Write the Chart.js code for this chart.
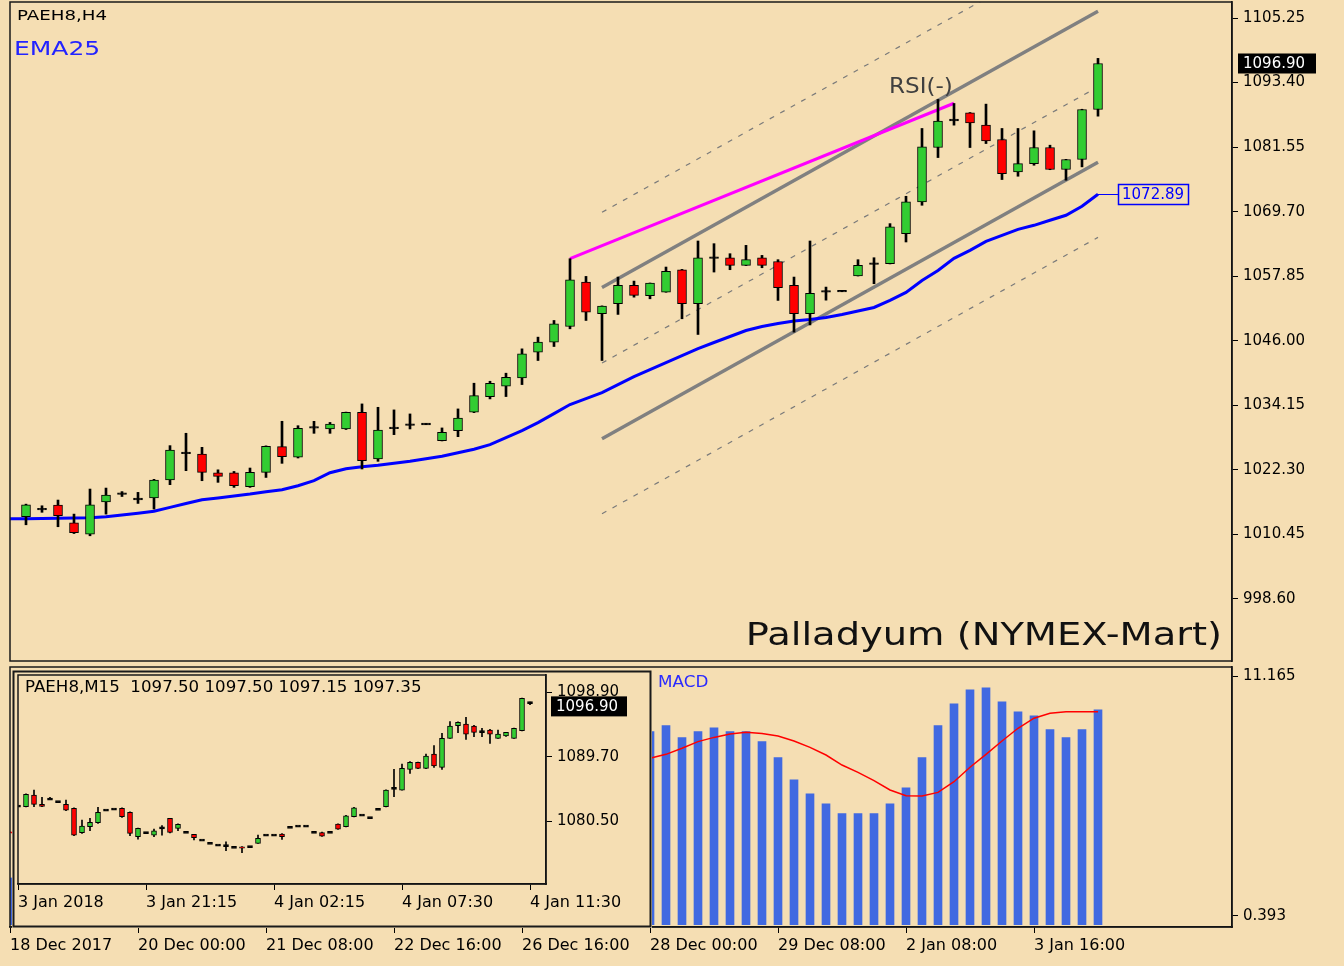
<!DOCTYPE html>
<html>
<head>
<meta charset="utf-8">
<script src="https://cdn.jsdelivr.net/npm/chart.js@4.4.0/dist/chart.umd.min.js"></script>
<style>
  html, body { margin: 0; padding: 0; background: #F5DEB3; }
  #wrap { position: relative; width: 1344px; height: 966px; background: #F5DEB3; overflow: hidden; }
  canvas { position: absolute; }
  #main { left: 0; top: 0; }
  #macd { left: 0; top: 664px; }
  #inset { left: 12px; top: 670px; z-index: 2; }
</style>
</head>
<body>
<div id="wrap">
  <canvas id="main" width="1344" height="664"></canvas>
  <canvas id="macd" width="1344" height="302"></canvas>
  <canvas id="inset" width="640" height="258"></canvas>
</div>
<script>
// PAEH8 H4 candles, index 0 = first bar after 18 Dec 2017
const h4Open = [1013.68, 1015.10, 1015.83, 1012.58, 1010.49, 1016.42, 1018.00, 1016.95, 1017.12, 1020.43,
  1025.40, 1025.21, 1021.77, 1021.77, 1019.20, 1021.84, 1026.56, 1024.60, 1030.12, 1029.80,
  1029.80, 1032.87, 1024.30, 1030.00, 1030.60, 1030.72, 1027.65, 1029.50, 1032.87, 1035.75,
  1037.65, 1039.18, 1043.90, 1045.74, 1048.62, 1056.77, 1050.95, 1052.79, 1056.16, 1054.26,
  1054.93, 1059.04, 1052.79, 1061.30, 1061.24, 1059.83, 1061.24, 1060.55, 1056.16, 1050.95,
  1055.10, 1055.10, 1057.88, 1060.20, 1060.14, 1065.66, 1071.48, 1081.47, 1086.55, 1087.85,
  1085.58, 1082.94, 1077.00, 1078.53, 1081.47, 1077.43, 1079.27, 1088.46];
const h4High = [1016.00, 1015.70, 1016.75, 1014.17, 1018.77, 1018.95, 1018.30, 1018.16, 1020.55, 1026.74,
  1029.01, 1026.43, 1022.30, 1022.00, 1022.63, 1026.70, 1031.21, 1030.40, 1031.20, 1031.00,
  1032.90, 1034.40, 1033.78, 1033.30, 1032.56, 1030.80, 1029.99, 1033.48, 1038.20, 1038.56,
  1040.04, 1044.51, 1046.66, 1049.72, 1061.06, 1057.81, 1052.40, 1057.69, 1056.95, 1056.60,
  1059.53, 1059.10, 1064.31, 1063.82, 1061.98, 1063.51, 1061.67, 1060.88, 1057.69, 1064.31,
  1055.85, 1055.15, 1060.88, 1061.24, 1067.50, 1072.52, 1084.97, 1090.30, 1089.56, 1087.90,
  1089.44, 1084.97, 1084.97, 1084.54, 1081.90, 1079.30, 1088.50, 1097.84];
const h4Low = [1012.21, 1014.50, 1011.85, 1010.60, 1010.19, 1014.17, 1017.40, 1016.13, 1015.09, 1019.57,
  1022.14, 1020.30, 1020.00, 1019.08, 1019.08, 1020.90, 1023.49, 1024.47, 1029.00, 1029.00,
  1029.70, 1022.45, 1023.86, 1028.76, 1029.80, 1030.60, 1027.60, 1028.39, 1032.80, 1035.32,
  1035.75, 1037.95, 1042.37, 1044.94, 1048.19, 1049.72, 1042.37, 1050.83, 1054.00, 1053.70,
  1054.90, 1050.03, 1047.15, 1058.61, 1059.04, 1059.80, 1059.40, 1053.40, 1047.58, 1048.90,
  1053.45, 1055.00, 1057.88, 1056.47, 1060.10, 1064.13, 1070.87, 1079.63, 1085.58, 1081.47,
  1082.20, 1075.59, 1076.20, 1078.22, 1077.40, 1075.47, 1077.92, 1087.23];
const h4Close = [1015.89, 1015.09, 1013.87, 1010.74, 1015.89, 1017.64, 1017.85, 1016.93, 1020.43, 1025.94,
  1025.39, 1021.84, 1021.10, 1019.38, 1021.84, 1026.62, 1024.72, 1029.93, 1030.10, 1030.72,
  1032.87, 1023.98, 1029.60, 1029.99, 1030.58, 1030.70, 1029.19, 1031.82, 1035.93, 1038.20,
  1039.30, 1043.59, 1045.74, 1049.11, 1057.20, 1051.25, 1052.36, 1056.16, 1054.32, 1056.59,
  1058.73, 1052.79, 1061.24, 1061.24, 1059.83, 1060.88, 1059.83, 1055.73, 1050.95, 1054.70,
  1055.00, 1055.08, 1059.84, 1060.10, 1066.89, 1071.48, 1081.60, 1086.31, 1086.50, 1086.00,
  1082.70, 1076.69, 1078.53, 1081.47, 1077.43, 1079.27, 1088.46, 1096.90];

// EMA25, starts one bar before the first candle (index -1)
const emaStart = -1;
const ema25 = [1013.31, 1013.31, 1013.37, 1013.42, 1013.46, 1013.51, 1013.68, 1014.01, 1014.34, 1014.69,
  1015.41, 1016.13, 1016.79, 1017.14, 1017.49, 1017.85, 1018.28, 1018.65, 1019.38, 1020.30,
  1021.77, 1022.51, 1022.87, 1023.15, 1023.52, 1023.89, 1024.35, 1024.80, 1025.45, 1026.09,
  1026.92, 1028.21, 1029.49, 1030.97, 1032.62, 1034.28, 1035.38, 1036.48, 1037.95, 1039.42,
  1040.71, 1042.00, 1043.28, 1044.57, 1045.67, 1046.78, 1047.88, 1048.62, 1049.17, 1049.63,
  1049.90, 1050.27, 1050.82, 1051.47, 1052.11, 1053.40, 1054.87, 1057.07, 1058.91, 1061.12,
  1062.59, 1064.25, 1065.35, 1066.45, 1067.19, 1068.11, 1069.03, 1070.68, 1072.89];

// regression channel (bar 36 -> bar 67) and RSI divergence line
const channelBars = [36, 67];
const channelUpper = [1055.79, 1106.50];
const channelMid = [1041.90, 1092.60];
const channelLower = [1028.02, 1078.77];
const channelOuterUp = [1069.58, 1120.29];
const channelOuterLow = [1014.23, 1064.98];
const rsiBars = [34, 58];
const rsiLine = [1061.06, 1089.60];

const priceTicks = [998.60, 1010.45, 1022.30, 1034.15, 1046.00, 1057.85, 1069.70, 1081.55, 1093.40, 1105.25];
const lastPrice = 1096.90;

// MACD (index -1 .. 67)
const macdStart = -1;
const macdHist = [2.1, 2.0, 1.9, 1.9, 1.6, 1.8, 2.0, 2.1, 2.1, 2.3,
  2.9, 3.3, 3.3, 3.1, 2.9, 2.9, 3.2, 3.3, 3.7, 4.1,
  4.4, 4.7, 4.2, 4.1, 4.0, 3.9, 3.8, 3.5, 3.5, 3.9,
  4.3, 4.7, 5.3, 5.8, 6.3, 7.4, 7.7, 7.7, 8.0, 8.0,
  8.67, 8.94, 8.40, 8.67, 8.84, 8.67, 8.67, 8.22, 7.50, 6.51,
  5.88, 5.43, 4.99, 4.99, 4.99, 5.43, 6.15, 7.50, 8.94, 9.92,
  10.55, 10.64, 10.01, 9.56, 9.38, 8.76, 8.40, 8.76, 9.65];
const macdSignal = [4.16, 3.9, 3.7, 3.5, 3.3, 3.0, 2.8, 2.7, 2.6, 2.5,
  2.5, 2.6, 2.7, 2.8, 2.85, 2.9, 2.95, 3.0, 3.1, 3.3,
  3.5, 3.7, 3.85, 3.95, 4.0, 4.0, 4.0, 3.95, 3.9, 3.9,
  4.0, 4.2, 4.5, 4.8, 5.2, 5.7, 6.2, 6.6, 7.0, 7.25,
  7.47, 7.65, 7.92, 8.22, 8.41, 8.56, 8.64, 8.59, 8.47, 8.25,
  7.96, 7.62, 7.17, 6.84, 6.47, 6.05, 5.79, 5.78, 5.94, 6.42,
  7.07, 7.65, 8.25, 8.82, 9.27, 9.49, 9.56, 9.56, 9.56];
const macdTicks = [0.393, 11.165];

const h4TickBars = [-1, 7, 15, 23, 31, 39, 47, 55, 63];
const h4TickLabels = ['18 Dec 2017', '20 Dec 00:00', '21 Dec 08:00', '22 Dec 16:00', '26 Dec 16:00',
  '28 Dec 00:00', '29 Dec 08:00', '2 Jan 08:00', '3 Jan 16:00'];

// M15 inset candles
const m15Open = [1082.64, 1082.55, 1084.22, 1082.90, 1083.64, 1083.26, 1082.88, 1082.31, 1078.83, 1079.69,
  1080.26, 1082.07, 1082.21, 1082.31, 1081.74, 1078.26, 1078.83, 1078.49, 1079.60, 1080.88,
  1079.45, 1078.88, 1078.59, 1077.78, 1077.30, 1077.06, 1077.00, 1076.73, 1076.80, 1076.83,
  1077.30, 1078.49, 1078.49, 1078.64, 1079.59, 1079.78, 1079.78, 1078.88, 1078.83, 1078.88,
  1080.07, 1079.69, 1081.12, 1081.36, 1080.97, 1082.17, 1082.55, 1085.07, 1084.93, 1087.89,
  1088.89, 1088.03, 1090.08, 1088.17, 1092.32, 1094.14, 1094.38, 1094.09, 1093.30, 1093.52,
  1092.32, 1092.66, 1092.32, 1093.42, 1097.50];
const m15High = [1082.64, 1084.40, 1084.93, 1083.88, 1083.90, 1083.26, 1083.50, 1082.40, 1080.64, 1080.88,
  1082.45, 1082.07, 1082.21, 1082.40, 1081.80, 1079.50, 1078.83, 1079.35, 1079.83, 1080.90,
  1080.10, 1078.88, 1078.60, 1077.78, 1077.30, 1077.06, 1077.54, 1076.73, 1076.85, 1076.83,
  1078.49, 1078.49, 1078.49, 1078.70, 1079.59, 1079.78, 1079.78, 1078.88, 1078.90, 1078.88,
  1080.10, 1081.30, 1082.45, 1081.36, 1080.97, 1082.17, 1084.95, 1087.89, 1088.65, 1089.00,
  1088.95, 1090.08, 1091.28, 1093.04, 1094.71, 1094.70, 1095.33, 1094.20, 1093.75, 1093.60,
  1093.52, 1093.20, 1093.80, 1098.10, 1097.50];
const m15Low = [1082.64, 1082.50, 1082.55, 1082.55, 1083.60, 1083.26, 1081.97, 1078.40, 1078.73, 1079.11,
  1080.16, 1082.07, 1082.21, 1081.00, 1078.40, 1077.92, 1078.83, 1078.26, 1078.49, 1078.80,
  1079.11, 1078.88, 1077.78, 1077.78, 1077.30, 1077.06, 1076.25, 1076.73, 1075.97, 1076.83,
  1077.30, 1078.49, 1078.49, 1077.87, 1079.59, 1079.78, 1079.78, 1078.88, 1078.30, 1078.88,
  1079.30, 1079.65, 1081.10, 1081.36, 1080.97, 1082.17, 1082.50, 1083.98, 1084.90, 1087.32,
  1088.00, 1088.00, 1088.17, 1087.89, 1092.30, 1093.14, 1092.18, 1092.56, 1092.56, 1091.61,
  1092.30, 1092.60, 1092.30, 1093.40, 1097.15];
const m15Close = [1082.64, 1084.31, 1082.88, 1082.60, 1083.64, 1083.26, 1082.07, 1078.49, 1079.78, 1080.31,
  1081.74, 1082.07, 1082.21, 1081.12, 1078.73, 1079.45, 1078.83, 1079.11, 1079.45, 1078.88,
  1080.02, 1078.88, 1078.11, 1077.78, 1077.30, 1077.06, 1076.97, 1076.73, 1076.60, 1076.83,
  1078.02, 1078.49, 1078.49, 1078.26, 1079.59, 1079.78, 1079.78, 1078.88, 1078.35, 1078.88,
  1079.35, 1081.26, 1082.40, 1081.36, 1080.97, 1082.17, 1084.93, 1085.25, 1088.03, 1088.89,
  1088.03, 1089.80, 1088.37, 1092.32, 1094.09, 1094.61, 1092.94, 1093.18, 1093.28, 1092.94,
  1092.94, 1093.18, 1093.75, 1098.05, 1097.35];
const m15Ticks = [1080.50, 1089.70, 1098.90];
const m15TickBars = [0, 16, 32, 48, 64];
const m15TickLabels = ['3 Jan 2018', '3 Jan 21:15', '4 Jan 02:15', '4 Jan 07:30', '4 Jan 11:30'];

const BG = '#F5DEB3', UP = '#32CD32', DOWN = '#FF0000';
Chart.defaults.font.family = '"DejaVu Sans", sans-serif';
Chart.defaults.color = '#000';

// body + wick datasets, doji bodies become a thin black bar
function candleSets(o, h, l, c, bodyW, wickW, eps, half) {
  const body = [], colors = [], wick = [];
  o.forEach((v, i) => {
    let a = v, b = c[i];
    if (Math.abs(a - b) < eps) {
      const m = (a + b) / 2; a = m - half; b = m + half;
      colors.push('#000');
    } else {
      colors.push(b > a ? UP : DOWN);
    }
    body.push({x: i, y: [Math.min(a, b), Math.max(a, b)]});
    wick.push({x: i, y: [l[i], h[i]]});
  });
  return [
    {type: 'bar', data: body, backgroundColor: colors, borderColor: '#000', borderWidth: 1,
      borderSkipped: false, barThickness: bodyW, grouped: false, order: 0},
    {type: 'bar', data: wick, backgroundColor: '#000', borderWidth: 0,
      barThickness: wickW, grouped: false, order: 1}
  ];
}

function lineSet(xs, ys, color, width, dash, order) {
  return {type: 'line', data: xs.map((x, i) => ({x: x, y: ys[i]})), borderColor: color,
    borderWidth: width, borderDash: dash || [], pointRadius: 0, fill: false, tension: 0, order: order};
}

function fromIndex(start, arr) {
  return arr.map((_, i) => start + i);
}

function txt(ctx, s, x, y, size, color, opts) {
  opts = opts || {};
  ctx.save();
  ctx.font = size + 'px "DejaVu Sans"';
  ctx.fillStyle = color;
  ctx.textBaseline = 'middle';
  ctx.textAlign = opts.align || 'left';
  ctx.translate(x, y);
  ctx.scale(opts.sx || 1, 1);
  ctx.fillText(s, 0, 0);
  ctx.restore();
}

function noPad(s) {
  s.paddingTop = 0; s.paddingBottom = 0; s.paddingLeft = 0; s.paddingRight = 0;
}

const framePlugin = {
  id: 'frame',
  afterDatasetsDraw(chart) {
    const {ctx, chartArea: a} = chart;
    ctx.save();
    ctx.strokeStyle = '#1a1a1a';
    ctx.lineWidth = 1.5;
    ctx.strokeRect(a.left, a.top, a.right - a.left, a.bottom - a.top);
    ctx.restore();
  }
};

const baseOpts = {responsive: false, animation: false, events: [],
  plugins: {legend: {display: false}, tooltip: {enabled: false}}};

const tickGrid = {drawOnChartArea: false, offset: false, tickLength: 6, color: '#000'};

// ---------- main H4 panel ----------
const mainLabels = {
  id: 'mainLabels',
  afterDraw(chart) {
    const ctx = chart.ctx, ys = chart.scales.y, xs = chart.scales.x;
    txt(ctx, 'PAEH8,H4', 17, 16, 14, '#000', {sx: 1.3});
    txt(ctx, 'EMA25', 14, 50, 20, '#2323ff', {sx: 1.25});
    txt(ctx, 'RSI(-)', 889, 88, 21, '#404040', {sx: 1.1});
    txt(ctx, 'Palladyum (NYMEX-Mart)', 1222, 637, 32, '#111', {align: 'right', sx: 1.2});

    const emaLast = ema25[ema25.length - 1];
    const ey = Math.round(ys.getPixelForValue(emaLast)) + 0.5;
    const ex = xs.getPixelForValue(h4Close.length - 1);
    ctx.save();
    ctx.strokeStyle = '#0000ff';
    ctx.lineWidth = 1;
    ctx.beginPath(); ctx.moveTo(ex, ey); ctx.lineTo(1118, ey); ctx.stroke();
    ctx.fillStyle = BG;
    ctx.fillRect(1118.5, ey - 10, 70, 20);
    ctx.lineWidth = 1.5;
    ctx.strokeRect(1118.5, ey - 10, 70, 20);
    ctx.restore();
    txt(ctx, emaLast.toFixed(2), 1122, ey + 1, 15, '#0000ff');

    const py = ys.getPixelForValue(lastPrice);
    ctx.save();
    ctx.fillStyle = '#000';
    ctx.fillRect(1238, py - 10, 78, 20);
    ctx.restore();
    txt(ctx, lastPrice.toFixed(2), 1243, py + 1, 15, '#fff');
  }
};

new Chart(document.getElementById('main'), {
  type: 'bar',
  data: {
    datasets: [
      ...candleSets(h4Open, h4High, h4Low, h4Close, 9, 2, 0.25, 0.15),
      lineSet(fromIndex(emaStart, ema25), ema25, '#0000ff', 3, null, 2),
      lineSet(rsiBars, rsiLine, '#ff00ff', 3, null, 3),
      lineSet(channelBars, channelUpper, '#808080', 3.5, null, 4),
      lineSet(channelBars, channelLower, '#808080', 3.5, null, 4),
      lineSet(channelBars, channelMid, '#7a7a7a', 1.2, [5, 7], 5),
      lineSet(channelBars, channelOuterUp, '#7a7a7a', 1.2, [5, 7], 5),
      lineSet(channelBars, channelOuterLow, '#7a7a7a', 1.2, [5, 7], 5)
    ]
  },
  options: {
    ...baseOpts,
    layout: {padding: {left: 10, top: 2, right: 0, bottom: 3}},
    scales: {
      x: {type: 'linear', min: -1, max: 75.375, offset: false, display: false, grid: {offset: false}},
      y: {
        position: 'right', min: 987.20, max: 1108.19,
        afterFit(s) { s.width = 112; noPad(s); },
        afterBuildTicks(s) { s.ticks = priceTicks.map(v => ({value: v})); },
        ticks: {callback: v => v.toFixed(2), font: {size: 15}, color: '#000', padding: 5},
        grid: tickGrid,
        border: {color: '#000', width: 1.5}
      }
    }
  },
  plugins: [framePlugin, mainLabels]
});

// ---------- MACD panel ----------
const macdLabel = {
  id: 'macdLabel',
  afterDraw(chart) {
    txt(chart.ctx, 'MACD', 658, 19, 16, '#2a2aff', {sx: 1.05});
  }
};

new Chart(document.getElementById('macd'), {
  type: 'bar',
  data: {
    datasets: [
      lineSet(fromIndex(macdStart, macdSignal), macdSignal, '#ff0000', 1.5, null, 0),
      {type: 'bar', data: macdHist.map((v, i) => ({x: macdStart + i, y: v})), backgroundColor: '#4169E1',
        barThickness: 8, grouped: false, order: 1}
    ]
  },
  options: {
    ...baseOpts,
    layout: {padding: {left: 10, top: 3, right: 0, bottom: 0}},
    scales: {
      x: {
        type: 'linear', min: -1, max: 75.375, offset: false, position: 'bottom',
        afterFit(s) { s.height = 39; noPad(s); },
        afterBuildTicks(s) { s.ticks = h4TickBars.map(v => ({value: v})); },
        ticks: {autoSkip: false, maxRotation: 0, align: 'start', padding: 3, font: {size: 16}, color: '#000',
          callback: (v, i) => h4TickLabels[i]},
        grid: tickGrid,
        border: {color: '#000', width: 1.5}
      },
      y: {
        position: 'right', min: -0.101, max: 11.57,
        afterFit(s) { s.width = 112; noPad(s); },
        afterBuildTicks(s) { s.ticks = macdTicks.map(v => ({value: v})); },
        ticks: {callback: v => v.toFixed(3), font: {size: 15}, color: '#000', padding: 5},
        grid: tickGrid,
        border: {color: '#000', width: 1.5}
      }
    }
  },
  plugins: [framePlugin, macdLabel]
});

// ---------- M15 inset ----------
const insetDeco = {
  id: 'insetDeco',
  beforeDraw(chart) {
    const ctx = chart.ctx;
    ctx.save();
    ctx.fillStyle = BG;
    ctx.fillRect(0, 0, chart.width, chart.height);
    ctx.restore();
  },
  afterDraw(chart) {
    const ctx = chart.ctx, ys = chart.scales.y;
    ctx.save();
    ctx.strokeStyle = '#1a1a1a';
    ctx.lineWidth = 2;
    ctx.strokeRect(1.5, 1.5, chart.width - 3, chart.height - 3);
    const py = ys.getPixelForValue(lastPrice);
    ctx.fillStyle = '#000';
    ctx.fillRect(539, py - 10, 76, 20);
    ctx.restore();
    txt(ctx, lastPrice.toFixed(2), 544, py + 1, 15, '#fff');
    txt(ctx, 'PAEH8,M15  1097.50 1097.50 1097.15 1097.35', 13, 18, 16, '#000', {sx: 1.04});
  }
};

new Chart(document.getElementById('inset'), {
  type: 'bar',
  data: {datasets: candleSets(m15Open, m15High, m15Low, m15Close, 5, 1, 0.2, 0.15)},
  options: {
    ...baseOpts,
    layout: {padding: {left: 6, top: 5, right: 0, bottom: 0}},
    scales: {
      x: {
        type: 'linear', min: 0, max: 66, offset: false, position: 'bottom',
        afterFit(s) { s.height = 44; noPad(s); },
        afterBuildTicks(s) { s.ticks = m15TickBars.map(v => ({value: v})); },
        ticks: {autoSkip: false, maxRotation: 0, align: 'start', padding: 3, font: {size: 16}, color: '#000',
          callback: (v, i) => m15TickLabels[i]},
        grid: tickGrid,
        border: {color: '#000', width: 1.5}
      },
      y: {
        position: 'right', min: 1071.49, max: 1101.39,
        afterFit(s) { s.width = 106; noPad(s); },
        afterBuildTicks(s) { s.ticks = m15Ticks.map(v => ({value: v})); },
        ticks: {callback: v => v.toFixed(2), font: {size: 15}, color: '#000', padding: 5},
        grid: tickGrid,
        border: {color: '#000', width: 1.5}
      }
    }
  },
  plugins: [framePlugin, insetDeco]
});
</script>
</body>
</html>
